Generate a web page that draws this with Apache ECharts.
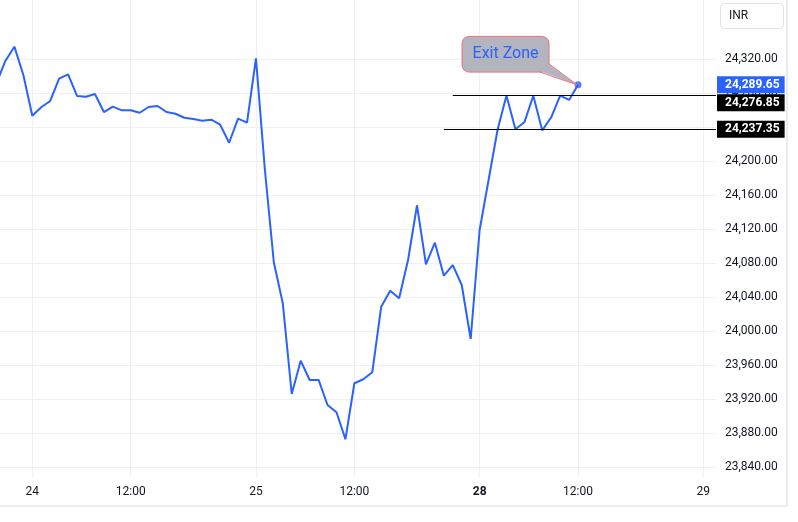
<!DOCTYPE html>
<html>
<head>
<meta charset="utf-8">
<script src="https://cdn.jsdelivr.net/npm/echarts@6/dist/echarts.min.js"></script>
<style>
  html, body { margin: 0; padding: 0; background: #fff; }
  #main { width: 798px; height: 522px; }
</style>
</head>
<body>
<div id="main"></div>
<script>
// 15 min bars, index 0 = 09:15 on the 24th
const barIndex = [-4, -3, -2, -1, 0, 1, 2, 3, 4, 5, 6, 7, 8, 9, 10, 11, 12, 13, 14, 15,
  16, 17, 18, 19, 20, 21, 22, 23, 24, 25, 26, 27, 28, 29, 30, 31, 32, 33, 34, 35,
  36, 37, 38, 39, 40, 41, 42, 43, 44, 45, 46, 47, 48, 49, 50, 51, 52, 53, 54, 55,
  56, 57, 58, 59, 60, 61];
const closes = [24291.8, 24318.0, 24334.5, 24301.2, 24253.3, 24263.2, 24270.6, 24296.8, 24302.0, 24276.5,
  24275.6, 24278.8, 24257.6, 24263.9, 24259.6, 24259.6, 24256.8, 24263.5, 24264.7, 24257.6,
  24255.6, 24250.9, 24249.4, 24247.4, 24248.6, 24242.7, 24221.5, 24249.8, 24245.1, 24320.8,
  24189.4, 24080.6, 24032.6, 23925.9, 23965.1, 23942.4, 23942.4, 23912.9, 23904.4, 23872.6,
  23938.5, 23943.2, 23951.4, 24028.6, 24047.4, 24038.5, 24083.5, 24147.9, 24078.5, 24103.9,
  24065.1, 24077.6, 24054.1, 23990.6, 24118.8, 24177.6, 24236.5, 24277.0, 24237.4, 24245.5,
  24276.8, 24236.0, 24251.4, 24276.8, 24271.8, 24289.65];

const xTickBars = [0, 11, 25, 36, 50, 61, 75];
const xTickLabels = ['24', '12:00', '25', '12:00', '28', '12:00', '29'];
const yTicks = [23840, 23880, 23920, 23960, 24000, 24040, 24080, 24120, 24160, 24200, 24240, 24280, 24320];

// horizontal lines drawn on the chart (start bar, price)
const hLineStart = [47, 46];
const hLinePrice = [24276.85, 24237.35];
const lastPrice = 24289.65;
const calloutText = 'Exit Zone';

const xMin = -3.61, xMax = 76.42;
const yMin = 23827.06, yMax = 24389.41;

const blue = '#2962ff';
const textColor = '#131722';
const gridColor = '#eff0f3';
const fontFamily = 'Roboto, "Noto Sans", sans-serif';

const lineData = barIndex.map((b, i) => [b, closes[i]]);
const lastBar = barIndex[barIndex.length - 1];

const fmtPrice = v => v.toLocaleString('en-US', { minimumFractionDigits: 2, maximumFractionDigits: 2 });

const priceLineData = hLinePrice.map((p, i) => [
  {
    coord: [hLineStart[i], p],
    label: {
      formatter: fmtPrice(p),
      offset: i === 0 ? [0, 7] : [0, 0]
    }
  },
  { coord: [xMax, p] }
]);

const chart = echarts.init(document.getElementById('main'));

const option = {
  animation: false,
  backgroundColor: '#fff',
  textStyle: { fontFamily: fontFamily },
  grid: { left: 0, right: 82, top: 0, bottom: 44 },
  xAxis: {
    type: 'value',
    min: xMin,
    max: xMax,
    axisLine: { show: false },
    axisTick: { show: false, customValues: xTickBars },
    splitLine: { show: true, lineStyle: { color: gridColor, width: 1 } },
    axisLabel: {
      customValues: xTickBars,
      margin: 8,
      fontSize: 12,
      color: textColor,
      formatter: v => {
        const lbl = xTickLabels[xTickBars.indexOf(v)];
        return lbl === '28' ? '{b|' + lbl + '}' : lbl;
      },
      rich: { b: { fontWeight: 'bold', fontSize: 12, color: textColor } }
    }
  },
  yAxis: {
    type: 'value',
    position: 'right',
    min: yMin,
    max: yMax,
    axisLine: { show: false },
    axisTick: { show: false, customValues: yTicks },
    splitLine: { show: true, lineStyle: { color: gridColor, width: 1 } },
    axisLabel: {
      customValues: yTicks,
      margin: 9,
      fontSize: 12,
      color: textColor,
      formatter: v => fmtPrice(v)
    }
  },
  series: [
    {
      type: 'line',
      data: lineData,
      showSymbol: false,
      lineStyle: { color: blue, width: 2 },
      itemStyle: { color: blue },
      markLine: {
        silent: true,
        z: 10,
        symbol: ['none', 'none'],
        lineStyle: { color: '#000', width: 1, type: 'solid' },
        label: {
          show: true,
          position: 'end',
          distance: 1,
          color: '#fff',
          backgroundColor: '#000',
          fontWeight: 'bold',
          fontSize: 12,
          lineHeight: 13,
          padding: [2, 5, 2, 8]
        },
        data: priceLineData.concat([
          [
            {
              coord: [lastBar, lastPrice],
              lineStyle: { color: 'rgba(0,0,0,0)', width: 0 },
              label: { backgroundColor: blue, formatter: fmtPrice(lastPrice) }
            },
            { coord: [xMax, lastPrice] }
          ]
        ])
      }
    },
    {
      type: 'scatter',
      data: [[lastBar, lastPrice]],
      symbolSize: 7,
      itemStyle: { color: blue },
      z: 5
    }
  ]
};

chart.setOption(option);

// callout bubble anchored to the last bar
const p = chart.convertToPixel({ seriesIndex: 0 }, [lastBar, lastPrice]);
const bx = p[0] - 116, by = p[1] - 48.4, bw = 87, bh = 35.7;
const tipA = [bx + bw, p[1] - 21];
const tipB = [p[0] - 38, by + bh];
const fill = '#b2b5be';
const edge = '#f0707a';

chart.setOption({
  graphic: [
    // frame
    { type: 'line', shape: { x1: 0, y1: 506, x2: 787, y2: 506 }, style: { stroke: '#ececec', lineWidth: 2 }, silent: true },
    { type: 'line', shape: { x1: 787, y1: 0, x2: 787, y2: 506 }, style: { stroke: '#ececec', lineWidth: 2 }, silent: true },
    // currency button
    { type: 'rect', shape: { x: 720.5, y: 3.5, width: 63, height: 25, r: 4 }, style: { fill: '#fff', stroke: '#e0e3eb', lineWidth: 1 }, silent: true },
    { type: 'text', x: 729, y: 16, style: { text: 'INR', fill: textColor, fontSize: 12, fontFamily: fontFamily, verticalAlign: 'middle' }, silent: true },
    // callout
    { type: 'rect', shape: { x: bx, y: by, width: bw, height: bh, r: 7 }, style: { fill: fill, stroke: edge, lineWidth: 1 }, z: 10, silent: true },
    { type: 'polygon', shape: { points: [[tipA[0] - 1, tipA[1]], [p[0] - 1, p[1]], [tipB[0], tipB[1] - 1], [bx + bw - 3, by + bh - 3]] }, style: { fill: fill }, z: 11, silent: true },
    { type: 'polyline', shape: { points: [tipA, [p[0] - 1, p[1]], tipB] }, style: { stroke: edge, lineWidth: 1, fill: null }, z: 12, silent: true },
    { type: 'text', x: bx + bw / 2, y: by + bh / 2, style: { text: calloutText, fill: blue, fontSize: 16, fontFamily: fontFamily, align: 'center', verticalAlign: 'middle' }, z: 13, silent: true }
  ]
});
</script>
</body>
</html>
